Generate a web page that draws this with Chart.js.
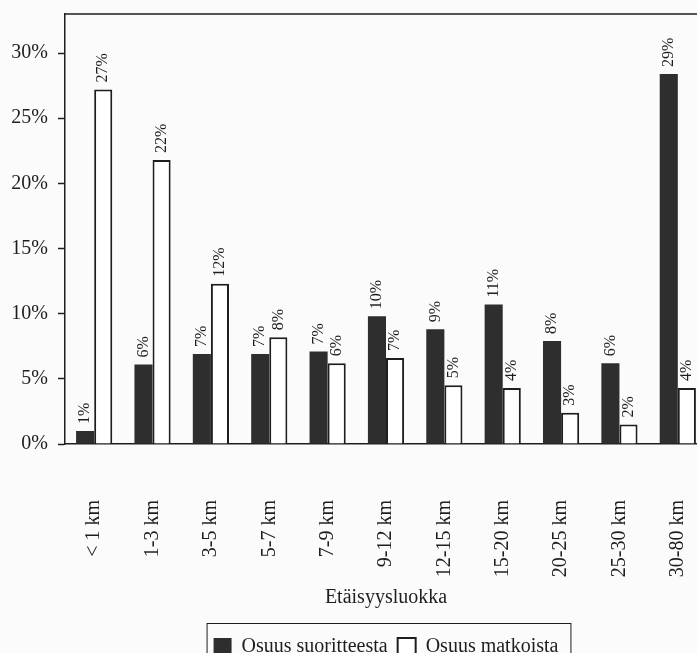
<!DOCTYPE html>
<html>
<head>
<meta charset="utf-8">
<script src="https://cdn.jsdelivr.net/npm/chart.js@4/dist/chart.umd.min.js"></script>
<style>
  html, body { margin: 0; padding: 0; overflow: hidden; background: #fbfbfb; }
  #wrap { width: 776px; height: 667px; }
</style>
</head>
<body>
<div id="wrap"><canvas id="chart" width="776" height="667"></canvas></div>
<script>
// distance classes and shares (%)
const categories = ['< 1 km', '1-3 km', '3-5 km', '5-7 km', '7-9 km', '9-12 km',
  '12-15 km', '15-20 km', '20-25 km', '25-30 km', '30-80 km'];
const suorite = [1.0, 6.1, 6.9, 6.9, 7.1, 9.8, 8.8, 10.7, 7.9, 6.2, 28.4];
const matkat = [27.2, 21.8, 12.3, 8.2, 6.2, 6.6, 4.5, 4.3, 2.4, 1.5, 4.3];
const suoriteLabels = ['1%', '6%', '7%', '7%', '7%', '10%', '9%', '11%', '8%', '6%', '29%'];
const matkatLabels = ['27%', '22%', '12%', '8%', '6%', '7%', '5%', '4%', '3%', '2%', '4%'];
const yTicks = [0, 5, 10, 15, 20, 25, 30];

const ink = '#1e1e1e';
const serif = 'Liberation Serif';

// rotated value labels above each bar
const barLabels = {
  id: 'barLabels',
  afterDatasetsDraw(chart) {
    const ctx = chart.ctx;
    const texts = [suoriteLabels, matkatLabels];
    ctx.save();
    ctx.font = '16px "' + serif + '"';
    ctx.fillStyle = ink;
    ctx.textAlign = 'left';
    ctx.textBaseline = 'middle';
    chart.data.datasets.forEach((ds, i) => {
      chart.getDatasetMeta(i).data.forEach((bar, j) => {
        ctx.save();
        ctx.translate(bar.x, bar.y - 7);
        ctx.rotate(-Math.PI / 2);
        ctx.fillText(texts[i][j], 0, 0);
        ctx.restore();
      });
    });
    ctx.restore();
  }
};

// top frame line + box round the legend
const frame = {
  id: 'frame',
  afterDraw(chart) {
    const ctx = chart.ctx;
    const a = chart.chartArea;
    ctx.save();
    ctx.strokeStyle = ink;
    ctx.lineWidth = 1.5;
    ctx.beginPath();
    ctx.moveTo(a.left, a.top);
    ctx.lineTo(a.right, a.top);
    ctx.stroke();

    const boxes = chart.legend.legendHitBoxes;
    if (boxes && boxes.length) {
      const first = boxes[0];
      const last = boxes[boxes.length - 1];
      const left = first.left - 7;
      const right = last.left + last.width + 12;
      const top = first.top - 14;
      ctx.lineWidth = 1;
      ctx.strokeRect(left + 0.5, top + 0.5, right - left, chart.height);
    }
    ctx.restore();
  }
};

new Chart(document.getElementById('chart').getContext('2d'), {
  type: 'bar',
  data: {
    labels: categories,
    datasets: [
      {
        label: 'Osuus suoritteesta',
        data: suorite,
        backgroundColor: '#2e2e2e',
        borderColor: '#2e2e2e',
        borderWidth: 0
      },
      {
        label: 'Osuus matkoista',
        data: matkat,
        backgroundColor: '#ffffff',
        borderColor: ink,
        borderWidth: 2
      }
    ]
  },
  options: {
    responsive: false,
    animation: false,
    events: [],
    layout: { padding: { top: 14, right: 69, left: 0, bottom: 0 } },
    datasets: { bar: { categoryPercentage: 0.62, barPercentage: 1.0 } },
    scales: {
      x: {
        grid: { display: false, drawTicks: false },
        border: { display: true, color: ink, width: 1.5 },
        ticks: {
          color: ink,
          font: { family: serif, size: 20 },
          minRotation: 90,
          maxRotation: 90,
          autoSkip: false,
          padding: 56
        },
        title: {
          display: true,
          text: 'Etäisyysluokka',
          color: ink,
          font: { family: serif, size: 20 },
          padding: { top: 0, bottom: 17 }
        },
        afterFit(axis) { axis.height = 183; }
      },
      y: {
        min: 0,
        max: 33,
        grid: { drawOnChartArea: false, drawTicks: true, tickLength: 7, tickColor: ink, tickWidth: 1.5 },
        border: { display: true, color: ink, width: 1.5 },
        ticks: {
          color: ink,
          font: { family: serif, size: 20 },
          padding: 10,
          callback: v => v + '%'
        },
        afterBuildTicks(axis) {
          axis.ticks = yTicks.map(v => ({ value: v }));
        },
        afterFit(axis) {
          axis.width = 65;
          axis.paddingTop = 0;
          axis.paddingBottom = 0;
        }
      }
    },
    plugins: {
      legend: {
        position: 'bottom',
        fullSize: false,
        labels: {
          color: ink,
          font: { family: serif, size: 20 },
          boxWidth: 18,
          boxHeight: 18,
          padding: 10
        }
      },
      tooltip: { enabled: false }
    }
  },
  plugins: [barLabels, frame]
});
</script>
</body>
</html>
